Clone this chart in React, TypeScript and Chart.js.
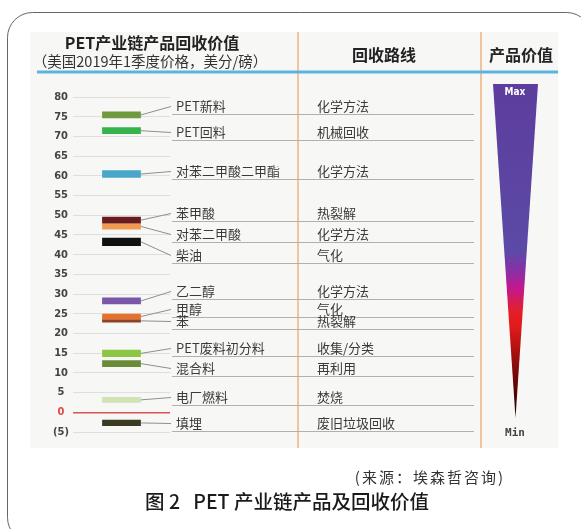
import React, { useEffect, useRef } from 'react';
import { Chart, registerables } from 'chart.js';

Chart.register(...registerables);

// ---- data ----
const products = ['PET新料', 'PET回料', '对苯二甲酸二甲酯', '苯甲酸', '对苯二甲酸', '柴油', '乙二醇', '甲醇', '苯', 'PET废料初分料', '混合料', '电厂燃料', '填埋'];
const routes = ['化学方法', '机械回收', '化学方法', '热裂解', '化学方法', '气化', '化学方法', '气化', '热裂解', '收集/分类', '再利用', '焚烧', '废旧垃圾回收'];
const lowValues = [74.6, 70.6, 59.5, 47.9, 46.4, 42.2, 27.4, 23.6, 22.8, 14.0, 11.5, 2.4, -3.5];
const highValues = [76.3, 72.3, 61.4, 49.6, 47.9, 44.3, 29.1, 25.0, 23.6, 15.9, 13.2, 3.9, -1.9];
// value (on the same axis) where each label row's underline sits
const rowLineValues = [75.7, 69.1, 59.2, 48.6, 43.2, 37.9, 28.8, 24.2, 21.2, 14.4, 9.2, 1.8, -4.8];
const barColors = ['#6f9a3e', '#35b44c', '#4aa6c9', '#6a1c1c', '#f09a52', '#111111', '#7a57a8', '#e8702a', '#8c4326', '#8dc643', '#6a8c38', '#cfe3b4', '#3b3a22'];
const yMin = -5;
const yMax = 80;
const yStep = 5;

const CJK = '"Noto Sans CJK SC", "Noto Sans", sans-serif';

const decor = {
  id: 'decor',
  beforeDraw(chart: any) {
    const { ctx } = chart;
    ctx.save();
    ctx.fillStyle = '#ffffff';
    ctx.fillRect(0, 0, chart.width, chart.height);
    ctx.fillStyle = '#f7f7f6';
    ctx.fillRect(30, 32, 528, 416);
    ctx.strokeStyle = '#666';
    ctx.lineWidth = 1;
    ctx.beginPath();
    ctx.roundRect(7.5, 12.5, 584, 530, 25);
    ctx.stroke();
    ctx.restore();
  },
  afterDraw(chart: any) {
    const { ctx } = chart;
    const ys = chart.scales.y;
    ctx.save();

    // header separator + column dividers
    ctx.strokeStyle = '#f2c49c';
    ctx.lineWidth = 2;
    [298, 481].forEach((x) => {
      ctx.beginPath();
      ctx.moveTo(x, 32);
      ctx.lineTo(x, 448);
      ctx.stroke();
    });
    ctx.strokeStyle = '#5db3de';
    ctx.lineWidth = 3;
    ctx.beginPath();
    ctx.moveTo(37, 72);
    ctx.lineTo(558, 72);
    ctx.stroke();

    // headers
    ctx.fillStyle = '#222';
    ctx.textAlign = 'center';
    ctx.textBaseline = 'middle';
    ctx.font = `bold 16px ${CJK}`;
    ctx.fillText('PET产业链产品回收价值', 152, 43);
    ctx.font = `14.5px ${CJK}`;
    ctx.fillStyle = '#333';
    ctx.fillText('（美国2019年1季度价格，美分/磅）', 150, 61);
    ctx.fillStyle = '#222';
    ctx.font = `bold 16px ${CJK}`;
    ctx.fillText('回收路线', 384, 55);
    ctx.fillText('产品价值', 521, 55);

    // rows: underline, leader, labels
    const metas = chart.data.datasets.map((_: any, i: number) => chart.getDatasetMeta(i));
    products.forEach((name, i) => {
      const lineY = Math.round(ys.getPixelForValue(rowLineValues[i])) + 0.5;
      const textY = lineY - 8;
      ctx.strokeStyle = '#b9adaa';
      ctx.lineWidth = 1;
      ctx.beginPath();
      ctx.moveTo(172, lineY);
      ctx.lineTo(474, lineY);
      ctx.stroke();

      const el = metas[i].data[0];
      if (el) {
        const right = el.x + el.width / 2;
        const cy = (el.y + el.base) / 2;
        ctx.strokeStyle = '#8f8f8f';
        ctx.beginPath();
        ctx.moveTo(right, cy);
        ctx.lineTo(171, textY);
        ctx.stroke();
      }

      ctx.fillStyle = '#3a3a3a';
      ctx.textAlign = 'left';
      ctx.textBaseline = 'middle';
      ctx.font = `13px ${CJK}`;
      ctx.fillText(name, 176, textY);
      ctx.fillText(routes[i], 317, textY);
    });

    // value wedge
    const top = 84;
    const tip = 418;
    const g = ctx.createLinearGradient(0, top, 0, tip);
    g.addColorStop(0, '#5d3d9d');
    g.addColorStop(0.5, '#5b4aa6');
    g.addColorStop(0.56, '#8a2fa6');
    g.addColorStop(0.61, '#c2188f');
    g.addColorStop(0.68, '#e41f2a');
    g.addColorStop(0.73, '#e01a1a');
    g.addColorStop(0.84, '#8c0b0b');
    g.addColorStop(1, '#1c0000');
    ctx.fillStyle = g;
    ctx.beginPath();
    ctx.moveTo(493, top);
    ctx.lineTo(538, top);
    ctx.lineTo(515.5, tip);
    ctx.closePath();
    ctx.fill();
    ctx.textAlign = 'center';
    ctx.fillStyle = '#ffffff';
    ctx.font = 'bold 10px "DejaVu Sans Condensed", sans-serif';
    ctx.fillText('Max', 515, 92);
    ctx.fillStyle = '#444';
    ctx.font = 'bold 11px "DejaVu Sans Mono", monospace';
    ctx.fillText('Min', 515, 433);

    // footer
    ctx.fillStyle = '#333';
    ctx.textAlign = 'right';
    ctx.font = `15px ${CJK}`;
    (ctx as any).letterSpacing = '2px';
    ctx.fillText('(来源：埃森哲咨询)', 505, 477);
    (ctx as any).letterSpacing = '0px';
    ctx.textAlign = 'center';
    ctx.fillStyle = '#1a1a1a';
    ctx.font = `500 19.5px ${CJK}`;
    ctx.fillText('图 2   PET 产业链产品及回收价值', 287, 502);

    ctx.restore();
  },
};

export default function App() {
  const ref = useRef<HTMLCanvasElement | null>(null);

  useEffect(() => {
    document.body.style.margin = '0';
    const canvas = ref.current;
    if (!canvas) return;
    const chart = new Chart(canvas, {
      type: 'bar',
      data: {
        labels: ['PET'],
        datasets: products.map((p, i) => ({
          label: p,
          data: [[lowValues[i], highValues[i]]] as any,
          backgroundColor: barColors[i],
          borderWidth: 0,
          grouped: false,
          barPercentage: 0.4,
          categoryPercentage: 1,
        })),
      },
      options: {
        responsive: false,
        animation: false,
        devicePixelRatio: 1,
        layout: { padding: { left: 40, right: 411, top: 97, bottom: 97 } },
        plugins: { legend: { display: false }, tooltip: { enabled: false } },
        scales: {
          x: { display: false },
          y: {
            min: yMin,
            max: yMax,
            afterFit: (s: any) => {
              s.width = 33;
            },
            border: { display: false },
            grid: {
              drawTicks: false,
              color: (c: any) => (c.tick && c.tick.value === 0 ? '#d9534f' : '#dedede'),
              lineWidth: (c: any) => (c.tick && c.tick.value === 0 ? 1.5 : 1),
            },
            ticks: {
              stepSize: yStep,
              crossAlign: 'center',
              padding: 4,
              color: (c: any) => (c.tick && c.tick.value === 0 ? '#e04a4a' : '#444'),
              font: { family: '"DejaVu Sans Condensed", sans-serif', weight: 'bold', size: 11 },
              callback: (v: any) => (v < 0 ? `(${-v})` : `${v}`),
            },
          },
        },
      },
      plugins: [decor],
    });
    return () => chart.destroy();
  }, []);

  return <canvas ref={ref} width={581} height={529} style={{ display: 'block', width: 581, height: 529 }} />;
}
